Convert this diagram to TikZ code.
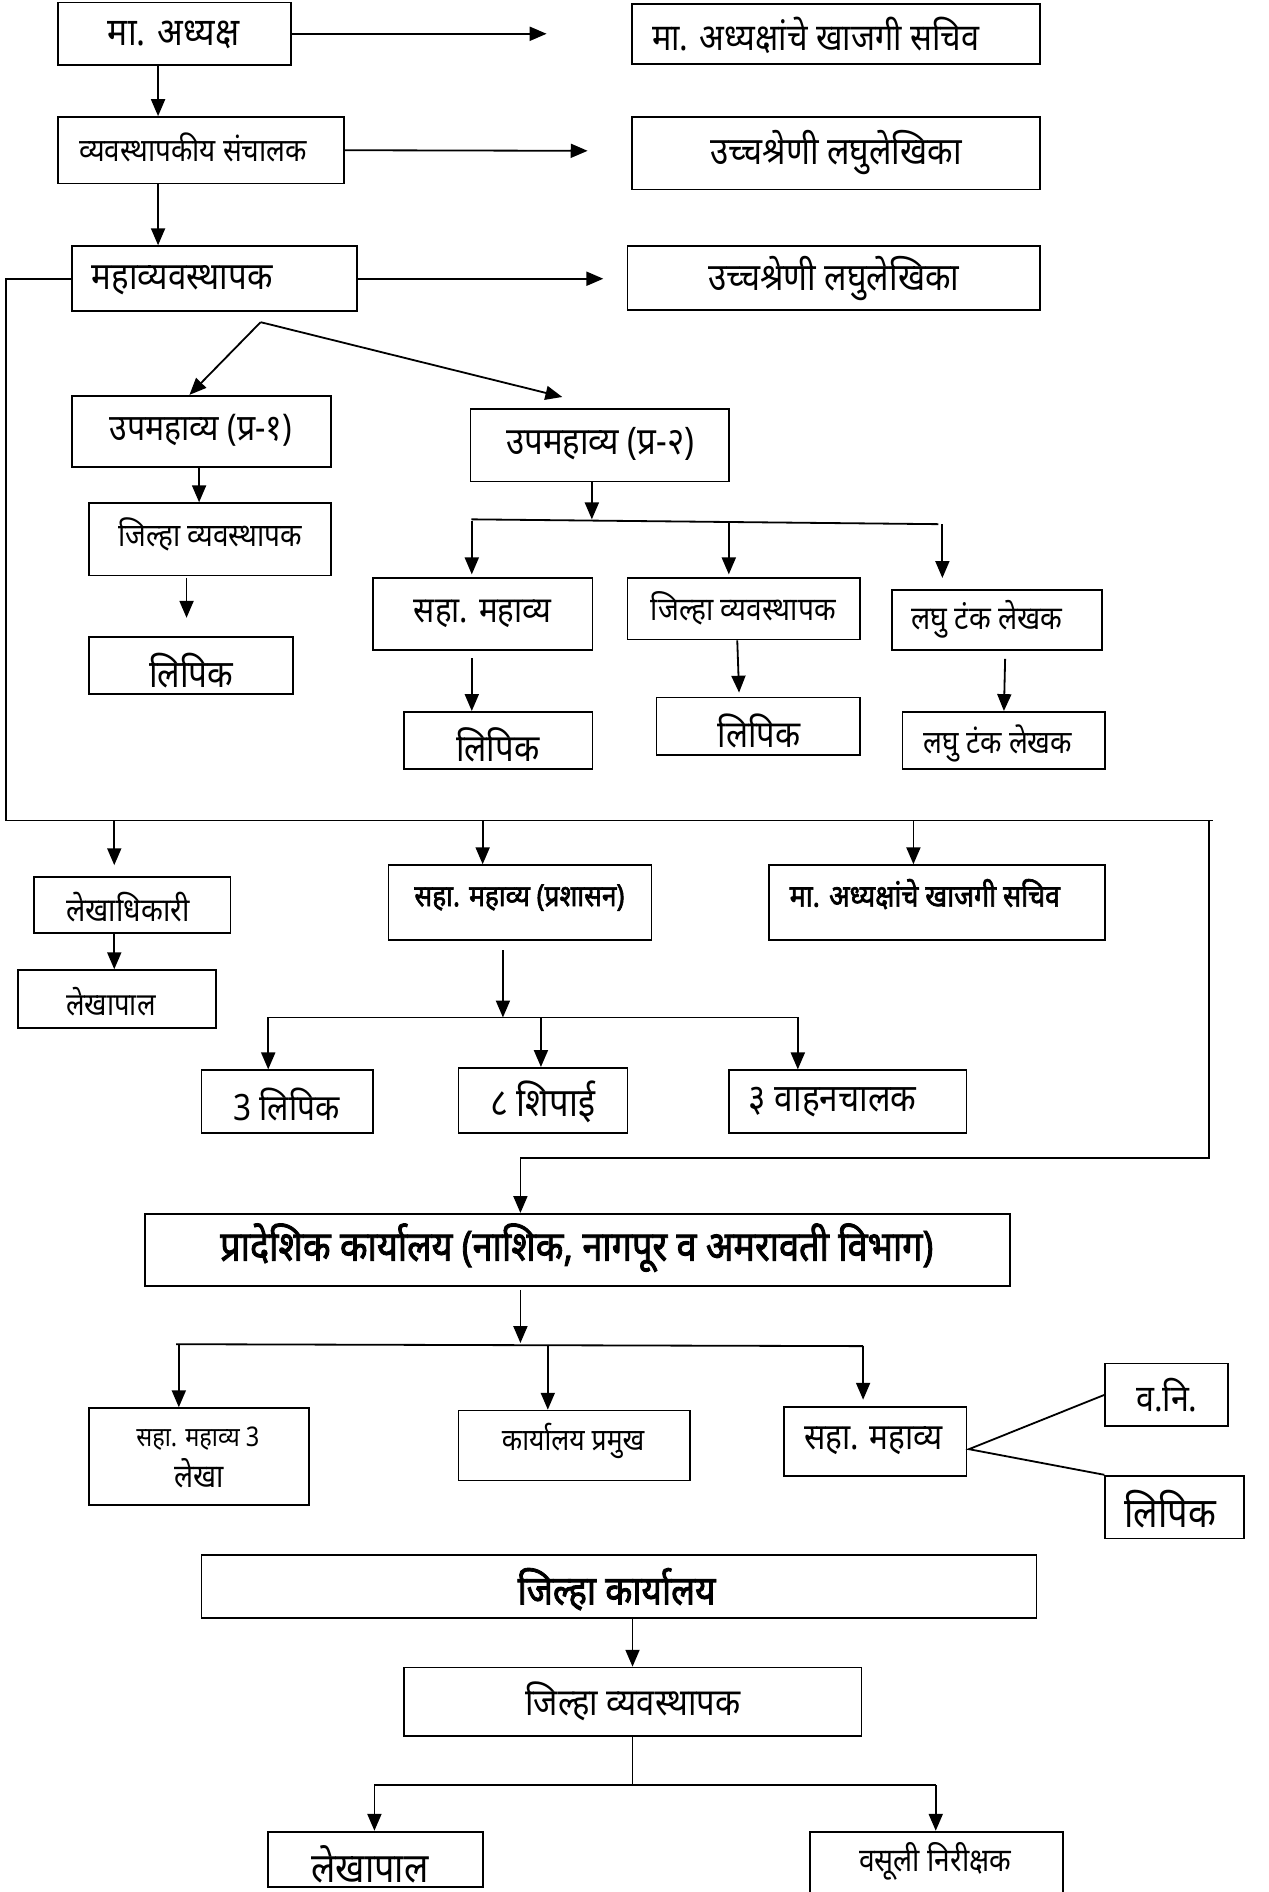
\documentclass[tikz,border=0pt]{standalone}
\usepackage{fontspec}
\setmainfont{Noto Sans}[Script=Devanagari]
\newfontfamily\bdev{Noto Sans}[Script=Devanagari, FakeBold=2.2]
\usepackage{graphicx}
\usetikzlibrary{arrows.meta}
\newlength\upx \setlength\upx{0.5pt}
\tikzset{
 bxs/.style={draw, line width=0.75pt, inner sep=0pt, rectangle},
 txs/.style={inner sep=0pt, anchor=center},
 arr/.style={line width=0.75pt, -{Triangle[length=7pt,width=5.8pt]}},
 ln/.style={line width=0.75pt},
}
\newcommand\bx[5]{\node[bxs, minimum width={(#4-#2)*0.5pt}, minimum height={(#5-#3)*0.5pt}] (#1) at ({(#2+#4)/2},{(#3+#5)/2}) {};}
\newcommand\tx[6]{\node[txs] (#1) at (#2,#3) {\scalebox{1}[1.15]{\resizebox{#4\upx}{!}{#5#6}}};}
\begin{document}
\begin{tikzpicture}[x=0.5pt,y=-0.5pt]
\useasboundingbox (0,0) rectangle (1051,1568);
\clip (0,0) rectangle (1051,1568);
% boxes
\bx{a1}{48}{2}{241}{54}
\bx{b1}{524}{3}{862}{53}
\bx{a2}{48}{97}{285}{152}
\bx{b2}{524}{97}{862}{157}
\bx{a3}{60}{204}{296}{258}
\bx{b3}{520}{204}{862}{257}
\bx{c1}{60}{328}{274}{387}
\bx{c2}{74}{417}{274}{477}
\bx{c3}{74}{528}{243}{575}
\bx{d1}{390}{339}{604}{399}
\bx{e1}{309}{479}{491}{539}
\bx{e2}{520}{479}{713}{530}
\bx{e3}{739}{489}{913}{539}
\bx{f1}{335}{590}{491}{637}
\bx{f2}{544}{578}{713}{626}
\bx{f3}{748}{590}{916}{637}
\bx{g1}{28}{727}{191}{773}
\bx{g4}{15}{804}{179}{852}
\bx{g2}{322}{717}{540}{779}
\bx{g3}{637}{717}{916}{779}
\bx{h1}{167}{887}{309}{939}
\bx{h2}{380}{885}{520}{939}
\bx{h3}{604}{887}{801}{939}
\bx{pr}{120}{1006}{837}{1066}
\bx{q1}{74}{1167}{256}{1247}
\bx{q2}{380}{1169}{572}{1227}
\bx{q3}{650}{1166}{801}{1223}
\bx{r1}{916}{1130}{1018}{1182}
\bx{r2}{916}{1223}{1031}{1275}
\bx{s}{167}{1289}{859}{1341}
\bx{t}{335}{1382}{714}{1439}
\bx{u1}{222}{1518}{400}{1564}
\bx{u2}{671}{1518}{881}{1590}
% texts
\tx{a1t}{144}{29}{109}{}{मा. अध्यक्ष}
\tx{b1t}{676}{29}{271}{}{मा. अध्यक्षांचे खाजगी सचिव}
\tx{a2t}{160}{122}{189}{}{व्यवस्थापकीय संचालक}
\tx{b2t}{693}{126}{208}{}{उच्चश्रेणी लघुलेखिका}
\tx{a3t}{151}{232}{150}{}{महाव्यवस्थापक}
\tx{b3t}{691}{231}{208}{}{उच्चश्रेणी लघुलेखिका}
\tx{c1t}{166.5}{357}{151}{}{उपमहाव्य (प्र-१)}
\tx{c2t}{174}{443}{152}{}{जिल्हा व्यवस्थापक}
\tx{c3t}{158.5}{556}{70}{}{लिपिक}
\tx{d1t}{497.5}{368}{156}{}{उपमहाव्य (प्र-२)}
\tx{e1t}{400}{509}{114}{}{सहा. महाव्य}
\tx{e2t}{616}{504}{153}{}{जिल्हा व्यवस्थापक}
\tx{e3t}{818}{513}{125}{}{लघु टंक लेखक}
\tx{f1t}{412.5}{617}{69}{}{लिपिक}
\tx{f2t}{629}{606}{68.5}{}{लिपिक}
\tx{f3t}{827}{616}{123}{}{लघु टंक लेखक}
\tx{g1t}{106}{752}{102}{}{लेखाधिकारी}
\tx{g4t}{92}{830}{74}{}{लेखापाल}
\tx{g2t}{430.5}{744}{174}{\bdev}{सहा. महाव्य (प्रशासन)}
\tx{g3t}{766.5}{741}{224}{\bdev}{मा. अध्यक्षांचे खाजगी सचिव}
\tx{h1t}{237.5}{915}{88}{}{3 लिपिक}
\tx{h2t}{449.6}{913}{87}{}{८ शिपाई}
\tx{h3t}{690}{913}{139}{}{३ वाहनचालक}
\tx{prt}{478}{1034}{591}{\bdev}{प्रादेशिक कार्यालय (नाशिक, नागपूर व अमरावती विभाग)}
\tx{q1a}{164}{1192}{102}{}{सहा. महाव्य 3}
\tx{q1b}{165}{1221}{41}{}{लेखा}
\tx{q2t}{475}{1194}{118}{}{कार्यालय प्रमुख}
\tx{q3t}{724}{1194}{115}{}{सहा. महाव्य}
\tx{r1t}{967}{1156}{51}{}{व.नि.}
\tx{r2t}{970}{1251}{76}{}{लिपिक}
\tx{st}{511}{1317}{164}{\bdev}{जिल्हा कार्यालय}
\tx{tt}{524.5}{1410}{178}{}{जिल्हा व्यवस्थापक}
\tx{u1t}{306.6}{1545}{97}{}{लेखापाल}
\tx{u2t}{775}{1543}{126}{}{वसूली निरीक्षक}
% connectors: top
\coordinate (a1r) at (453,28);
\draw[arr] (a1.east) -- (a1r);
\draw[arr] (131,0 |- a1.south) -- (131,0 |- a2.north);
\coordinate (a2r) at (487,125);
\draw[arr] (a2.east) -- (a2r);
\draw[arr] (131,0 |- a2.south) -- (131,0 |- a3.north);
\coordinate (a3r) at (500,231);
\draw[arr] (a3.east) -- (a3r);
% big left loop
\coordinate (lb) at (5,680);
\coordinate (rb) at (1005,680);
\draw[ln] (a3.west) -- (5,0 |- a3.west) -- (lb) -- (rb);
% apex
\coordinate (ap) at (216,267);
\coordinate (d1in) at (466,329);
\draw[arr] (ap) -- (157,0 |- c1.north);
\draw[arr] (ap) -- (d1in);
% left column
\draw[arr] (165,0 |- c1.south) -- (165,0 |- c2.north);
\coordinate (c2o) at (154.6,479);
\coordinate (c3i) at (154.6,512);
\draw[arr] (c2o) -- (c3i);
% d1 branch
\coordinate (bus1) at (490.5,430.4);
\draw[arr] (490.5,0 |- d1.south) -- (bus1);
\coordinate (busl) at (390.6,430.4);
\coordinate (busr) at (777.6,434.4);
\draw[ln] (busl) -- (busr);
\draw[arr] (391,432) -- (391,476);
\draw[arr] (604,433) -- (604,476);
\draw[arr] (781,434.4) -- (781,479);
\draw[arr] (391,545.6) -- (391,0 |- f1.north);
\draw[arr] (611,0 |- e2.south) -- (612.5,574);
\draw[arr] (833,546) -- (832,0 |- f3.north);
% row g
\draw[arr] (94.7,680) -- (94.7,717);
\draw[arr] (400,680) -- (400,0 |- g2.north);
\draw[arr] (757,680) -- (757,0 |- g3.north);
\draw[arr] (94.7,0 |- g1.south) -- (94.7,0 |- g4.north);
\draw[arr] (416.8,787.4) -- (416.8,843.2);
\draw[ln] (222.3,843.2) -- (661.2,843.2);
\draw[arr] (222.3,843.2) -- (222.3,0 |- h1.north);
\draw[arr] (448.3,843.2) -- (448.3,0 |- h2.north);
\draw[arr] (661.2,843.2) -- (661.2,0 |- h3.north);
% right loop to regional office
\draw[ln] (1002,680) -- (1002,960) -- (431.3,960);
\draw[arr] (431.3,960) -- (431.3,0 |- pr.north);
\draw[arr] (431.3,1069) -- (431.3,1113);
\draw[ln] (146,1114) -- (715.3,1115.6);
\draw[arr] (148.2,1114) -- (148.2,0 |- q1.north);
\draw[arr] (454,1114.5) -- (454,0 |- q2.north);
\draw[arr] (715.3,1115.6) -- (715.3,1160);
\coordinate (qj) at (803,1201);
\draw[ln] (r1.west) -- (qj) -- (r2.north west);
% bottom
\draw[arr] (524.2,0 |- s.south) -- (524.2,0 |- t.north);
\draw[ln] (524.2,0 |- t.south) -- (524.2,1479.5);
\draw[ln] (310.3,1479.5) -- (775.5,1479.5);
\draw[arr] (310.3,1479.5) -- (310.3,0 |- u1.north);
\draw[arr] (775.5,1479.5) -- (775.5,0 |- u2.north);
\end{tikzpicture}
\end{document}
